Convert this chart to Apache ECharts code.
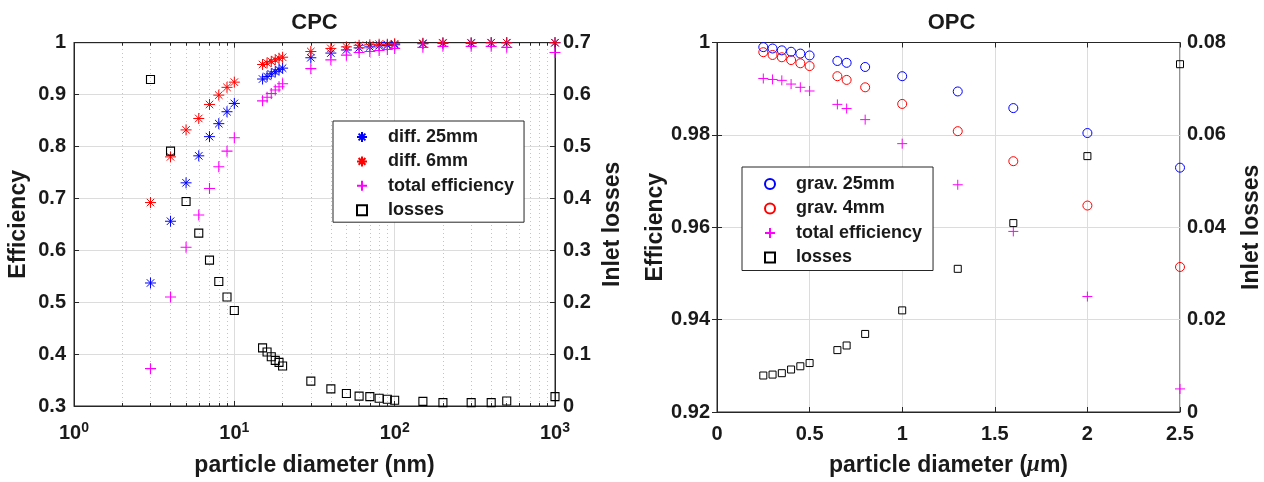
<!DOCTYPE html>
<html>
<head>
<meta charset="utf-8">
<script src="https://cdn.jsdelivr.net/npm/echarts@6.0.0/dist/echarts.min.js"></script>
<style>
html,body{margin:0;padding:0;background:#fff;}
#chart{width:1264px;height:482px;}
</style>
</head>
<body>
<div id="chart"></div>
<script>
// ---------- CPC (left) ----------
const cpcX = [3,4,5,6,7,8,9,10,15,16,17,18,19,20,30,40,50,60,70,80,90,100,150,200,300,400,500,1000];
const diff25 = [0.537,0.656,0.730,0.782,0.819,0.844,0.867,0.883,0.930,0.935,0.940,0.944,0.948,0.951,0.971,0.980,0.986,0.990,0.992,0.994,0.995,0.996,0.998,0.999,0.999,1.0,1.0,1.0];
const diff6 = [0.692,0.780,0.832,0.854,0.881,0.899,0.914,0.924,0.958,0.961,0.964,0.967,0.970,0.972,0.983,0.989,0.992,0.995,0.996,0.997,0.997,0.998,0.999,1.0,1.0,1.0,1.0,1.0];
const cpcTotal = [0.372,0.510,0.606,0.668,0.719,0.761,0.791,0.817,0.888,0.895,0.902,0.909,0.915,0.921,0.950,0.967,0.976,0.981,0.983,0.985,0.987,0.989,0.991,0.993,0.993,0.993,0.991,0.981];
const cpcLoss = [0.629,0.491,0.394,0.333,0.281,0.240,0.210,0.184,0.112,0.104,0.095,0.088,0.084,0.077,0.048,0.033,0.024,0.019,0.018,0.015,0.013,0.011,0.009,0.0065,0.0065,0.0065,0.0095,0.018];
const cpcMinorX = [2,3,4,5,6,7,8,9,20,30,40,50,60,70,80,90,200,300,400,500,600,700,800,900];

// ---------- OPC (right) ----------
const opcX = [0.25,0.3,0.35,0.4,0.45,0.5,0.65,0.7,0.8,1.0,1.3,1.6,2.0,2.5];
const grav25 = [0.9990,0.9987,0.9983,0.9980,0.9976,0.9972,0.9960,0.9956,0.9947,0.9927,0.9894,0.9858,0.9804,0.9729];
const grav4 = [0.9979,0.9973,0.9968,0.9962,0.9955,0.9949,0.9927,0.9919,0.9903,0.9867,0.9808,0.9743,0.9647,0.9514];
const opcTotal = [0.9922,0.9920,0.9918,0.9910,0.9903,0.9895,0.9866,0.9857,0.9833,0.9781,0.9692,0.9591,0.9450,0.9250];
const opcLoss = [0.0079,0.0081,0.0084,0.0092,0.0099,0.0106,0.0134,0.0144,0.0169,0.0220,0.0310,0.0409,0.0554,0.0753];

const legendCPC = ['diff. 25mm','diff. 6mm','total efficiency','losses'];
const legendOPC = ['grav. 25mm','grav. 4mm','total efficiency','losses'];

const FONT = '"Liberation Sans", Arial, Helvetica, sans-serif';
const TXT = '#1a1a1a';
const AX = '#262626';
const GRID = '#dcdcdc';

const ASTER = 'path://M5,0L5,10M0,5L10,5M1.6,1.6L8.4,8.4M1.6,8.4L8.4,1.6';
const PLUS = 'path://M5,0L5,10M0,5L10,5';
const SQUARE = 'path://M0,0L10,0L10,10L0,10Z';
const NONE = 'rgba(0,0,0,0)';

function pairs(xs, ys){ return xs.map((x,i)=>[x, ys[i]]); }

const labelStyle = {color: TXT, fontSize: 20, fontWeight: 'bold', fontFamily: FONT};
const nameStyle = {color: TXT, fontSize: 23, fontWeight: 'bold', fontFamily: FONT};

function yAx(opts){
  return Object.assign({
    type: 'value',
    axisLine: {show: true, lineStyle: {color: AX, width: 1}},
    axisTick: {show: true, inside: true, length: 5, lineStyle: {color: AX}},
    axisLabel: Object.assign({margin: 8}, labelStyle),
    splitLine: {show: false},
    nameLocation: 'middle',
    nameRotate: 90,
    nameTextStyle: nameStyle
  }, opts);
}

const chart = echarts.init(document.getElementById('chart'), null, {renderer: 'canvas'});

const legendText = {fontSize: 18, fontWeight: 'bold', color: TXT, fontFamily: FONT};

const option = {
  backgroundColor: '#fff',
  animation: false,
  title: [
    {text: 'CPC', left: 314.5, top: 12, textAlign: 'center', padding: 0,
     textStyle: {fontSize: 22, fontWeight: 'bold', color: TXT, fontFamily: FONT}},
    {text: 'OPC', left: 951.5, top: 12, textAlign: 'center', padding: 0,
     textStyle: {fontSize: 22, fontWeight: 'bold', color: TXT, fontFamily: FONT}}
  ],
  legend: [
    {data: legendCPC, orient: 'vertical', left: 333, top: 121, selectedMode: false,
     backgroundColor: '#fff', borderColor: AX, borderWidth: 1, borderRadius: 0,
     padding: [7, 10, 3, 23], itemWidth: 42, itemHeight: 10, itemGap: 6.4,
     textStyle: legendText},
    {data: legendOPC, orient: 'vertical', left: 742, top: 167, selectedMode: false,
     backgroundColor: '#fff', borderColor: AX, borderWidth: 1, borderRadius: 0,
     padding: [8, 11, 4, 22], itemWidth: 42, itemHeight: 10, itemGap: 6.5,
     textStyle: legendText}
  ],
  grid: [
    {left: 74, right: 1264 - 555, top: 42.7, bottom: 482 - 410.7, show: true, borderColor: AX, borderWidth: 1, backgroundColor: '#fff'},
    {left: 717, right: 1264 - 1186, top: 42.5, bottom: 482 - 417, show: true, borderColor: AX, borderWidth: 1, backgroundColor: '#fff'}
  ],
  xAxis: [
    {gridIndex: 0, type: 'log', logBase: 10, min: 1, max: 1000, position: 'bottom',
     name: 'particle diameter (nm)', nameLocation: 'middle', nameGap: 48, nameTextStyle: nameStyle,
     axisLine: {show: true, lineStyle: {color: AX}},
     axisTick: {show: true, inside: true, length: 5, lineStyle: {color: AX}},
     splitLine: {show: true, lineStyle: {color: GRID, width: 1}},
     axisLabel: {margin: 15, formatter: function(v){ return '{b|10}{s|' + Math.round(Math.log10(v)) + '}'; },
       rich: {
         b: {fontSize: 20, fontWeight: 'bold', color: TXT, fontFamily: FONT, lineHeight: 20, padding: [4,0,0,0]},
         s: {fontSize: 14, fontWeight: 'bold', color: TXT, fontFamily: FONT, lineHeight: 14, verticalAlign: 'top'}
       }}},
    {gridIndex: 0, type: 'log', logBase: 10, min: 1, max: 1000, position: 'top',
     axisLine: {show: true, lineStyle: {color: AX}},
     axisTick: {show: true, inside: true, length: 5, lineStyle: {color: AX}},
     axisLabel: {show: false}, splitLine: {show: false}},
    {gridIndex: 1, type: 'value', min: 0, max: 2.5, interval: 0.5, position: 'bottom',
     name: 'particle diameter ({mu|μ}m)', nameLocation: 'middle', nameGap: 42,
     nameTextStyle: Object.assign({}, nameStyle, {rich: {mu: {fontSize: 23, fontStyle: 'italic', fontFamily: '"Liberation Serif", serif', color: TXT}}}),
     axisLine: {show: true, lineStyle: {color: AX}},
     axisTick: {show: true, inside: true, length: 5, lineStyle: {color: AX}},
     splitLine: {show: true, lineStyle: {color: GRID, width: 1}},
     axisLabel: Object.assign({margin: 12}, labelStyle)},
    {gridIndex: 1, type: 'value', min: 0, max: 2.5, interval: 0.5, position: 'top',
     axisLine: {show: true, lineStyle: {color: AX}},
     axisTick: {show: true, inside: true, length: 5, lineStyle: {color: AX}},
     axisLabel: {show: false}, splitLine: {show: false}}
  ],
  yAxis: [
    yAx({gridIndex: 0, position: 'left', min: 0.3, max: 1, interval: 0.1, name: 'Efficiency', nameGap: 44,
         splitLine: {show: true, lineStyle: {color: GRID, width: 1}}}),
    yAx({gridIndex: 0, position: 'right', min: 0, max: 0.7, interval: 0.1, name: 'Inlet losses', nameGap: 46}),
    yAx({gridIndex: 1, position: 'left', min: 0.92, max: 1, interval: 0.02, name: 'Efficiency', nameGap: 50,
         splitLine: {show: true, lineStyle: {color: GRID, width: 1}}, axisLabel: Object.assign({margin: 7}, labelStyle)}),
    yAx({gridIndex: 1, position: 'right', min: 0, max: 0.08, interval: 0.02, name: 'Inlet losses', nameGap: 60,
         axisLabel: Object.assign({margin: 7}, labelStyle)})
  ],
  series: [
    // minor dotted grid + minor ticks for log axis
    {type: 'scatter', xAxisIndex: 0, yAxisIndex: 1, data: [], silent: true,
     markLine: {silent: true, z: 1, symbol: ['none','none'], label: {show: false},
       lineStyle: {type: [1, 3], color: '#c4c4c4', width: 1},
       data: cpcMinorX.map(v => ({xAxis: v}))}},
    {type: 'scatter', xAxisIndex: 0, yAxisIndex: 1, data: [], silent: true,
     markLine: {silent: true, z: 6, symbol: ['none','none'], label: {show: false},
       lineStyle: {type: 'solid', color: AX, width: 1},
       data: cpcMinorX.flatMap(v => [
         [{coord: [v, 0]}, {coord: [v, 0.0057]}],
         [{coord: [v, 0.7]}, {coord: [v, 0.6943]}]
       ])}},
    {name: 'diff. 25mm', type: 'scatter', xAxisIndex: 0, yAxisIndex: 0, clip: false,
     symbol: ASTER, symbolSize: 11, data: pairs(cpcX, diff25),
     itemStyle: {color: NONE, borderColor: '#0000ff', borderWidth: 1, opacity: 1}},
    {name: 'diff. 6mm', type: 'scatter', xAxisIndex: 0, yAxisIndex: 0, clip: false,
     symbol: ASTER, symbolSize: 11, data: pairs(cpcX, diff6),
     itemStyle: {color: NONE, borderColor: '#ff0000', borderWidth: 1, opacity: 1}},
    {name: 'total efficiency', type: 'scatter', xAxisIndex: 0, yAxisIndex: 0, clip: false,
     symbol: PLUS, symbolSize: 11, data: pairs(cpcX, cpcTotal),
     itemStyle: {color: NONE, borderColor: '#ff00ff', borderWidth: 1.1, opacity: 1}},
    {name: 'losses', type: 'scatter', xAxisIndex: 0, yAxisIndex: 1, clip: false,
     symbol: SQUARE, symbolSize: 8, data: pairs(cpcX, cpcLoss),
     itemStyle: {color: NONE, borderColor: '#000000', borderWidth: 1.1, opacity: 1}},

    {name: 'grav. 25mm', type: 'scatter', xAxisIndex: 2, yAxisIndex: 2, clip: false,
     symbol: 'circle', symbolSize: 9, data: pairs(opcX, grav25),
     itemStyle: {color: NONE, borderColor: '#0000ff', borderWidth: 1, opacity: 1}},
    {name: 'grav. 4mm', type: 'scatter', xAxisIndex: 2, yAxisIndex: 2, clip: false,
     symbol: 'circle', symbolSize: 9, data: pairs(opcX, grav4),
     itemStyle: {color: NONE, borderColor: '#ff0000', borderWidth: 1, opacity: 1}},
    {name: 'total efficiency', type: 'scatter', xAxisIndex: 2, yAxisIndex: 2, clip: false,
     symbol: PLUS, symbolSize: 10, data: pairs(opcX, opcTotal),
     itemStyle: {color: NONE, borderColor: '#ff00ff', borderWidth: 1, opacity: 1}},
    {name: 'losses', type: 'scatter', xAxisIndex: 2, yAxisIndex: 3, clip: false,
     symbol: SQUARE, symbolSize: 7, data: pairs(opcX, opcLoss),
     itemStyle: {color: NONE, borderColor: '#000000', borderWidth: 1, opacity: 1}}
  ]
};
chart.setOption(option);
</script>
</body>
</html>
